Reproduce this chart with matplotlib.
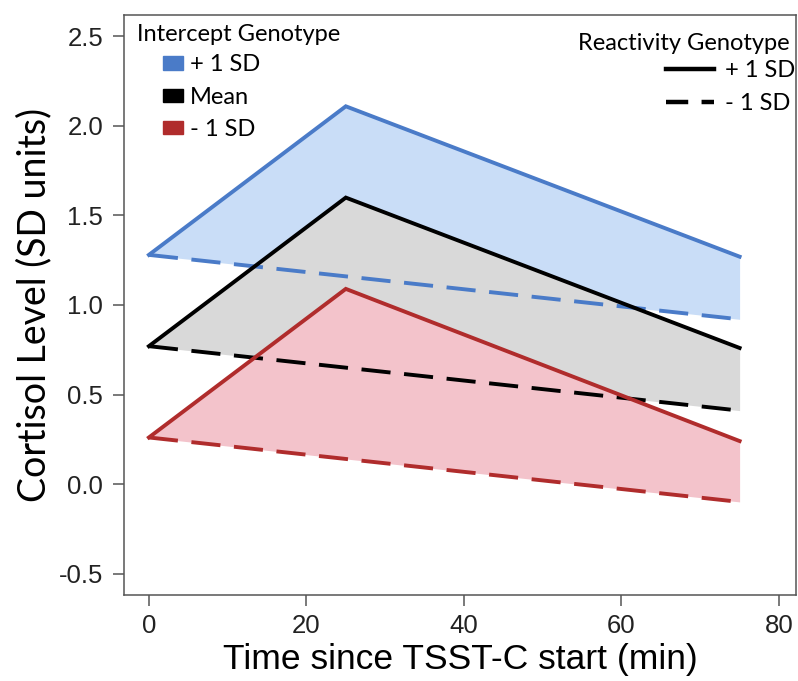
import numpy as np
import matplotlib
matplotlib.use("Agg")
import matplotlib.pyplot as plt
from matplotlib.patches import Patch
from matplotlib.lines import Line2D

# time points (min)
time = [0, 25, 75]

# cortisol (SD units): solid = reactivity +1 SD, dashed = reactivity -1 SD
hi_plus = [1.28, 2.11, 1.27]
lo_plus = [1.28, 1.16, 0.92]
hi_mean = [0.77, 1.60, 0.76]
lo_mean = [0.77, 0.65, 0.41]
hi_minus = [0.26, 1.09, 0.24]
lo_minus = [0.26, 0.14, -0.10]

groups = [
    ("+ 1 SD", hi_plus, lo_plus, "#4a7bc8", "#c9ddf7"),
    ("Mean", hi_mean, lo_mean, "black", "#d9d9d9"),
    ("- 1 SD", hi_minus, lo_minus, "#b02c2c", "#f3c3cb"),
]

fig = plt.figure(figsize=(7.98, 6.81), dpi=100)
ax = fig.add_axes([124/798, 1-595/681, 672/798, 580/681])

for name, hi, lo, lc, fc in groups:
    ax.fill_between(time, lo, hi, color=fc, lw=0, zorder=1)
for name, hi, lo, lc, fc in groups:
    ax.plot(time, hi, color=lc, lw=2.8, zorder=3, solid_joinstyle="miter")
    ax.plot(time, lo, color=lc, lw=2.8, ls=(0, (7.5, 3.5)), zorder=3)

ax.set_xlim(-3.16, 82.16)
ax.set_ylim(-0.62, 2.62)
ax.set_xticks([0, 20, 40, 60, 80])
ax.set_yticks([-0.5, 0.0, 0.5, 1.0, 1.5, 2.0, 2.5])
ax.set_yticklabels(["-0.5", "0.0", "0.5", "1.0", "1.5", "2.0", "2.5"])
ax.tick_params(length=8, width=1.1, color="#555555", labelcolor="#222222",
               labelsize=18.5)
ax.tick_params(axis="y", pad=7)
ax.tick_params(axis="x", pad=6)
for lab in ax.get_xticklabels() + ax.get_yticklabels():
    lab.set_family("Liberation Sans")
for s in ax.spines.values():
    s.set_color("#555555")
    s.set_linewidth(1.1)

ax.set_xlabel("Time since TSST-C start (min)", fontsize=25.5,
              family="Liberation Sans", labelpad=3)
ax.set_ylabel("Cortisol Level (SD units)", fontsize=27, family="Lato",
              labelpad=5)

# left legend: intercept genotype
ax.text(0.019, 0.984, "Intercept Genotype", transform=ax.transAxes,
        fontsize=17, family="Lato", va="top", ha="left")
h1 = [Patch(color=g[3]) for g in groups]
leg1 = ax.legend(h1, [g[0] for g in groups], loc="upper left",
                 bbox_to_anchor=(0.058, 0.932), frameon=False,
                 prop={"family": "Lato", "size": 17},
                 handlelength=0.85, handleheight=0.5, handletextpad=0.3,
                 labelspacing=0.48, borderpad=0, borderaxespad=0)
ax.add_artist(leg1)

# right legend: reactivity genotype
ax.text(0.991, 0.969, "Reactivity Genotype", transform=ax.transAxes,
        fontsize=17, family="Lato", va="top", ha="right")
h2 = [Line2D([], [], color="black", lw=3.2),
      Line2D([], [], color="black", lw=3.2, ls=(0, (5, 3)))]
ax.legend(h2, ["+ 1 SD", "- 1 SD"], loc="upper right",
          bbox_to_anchor=(0.9995, 0.922), frameon=False,
          prop={"family": "Lato", "size": 17},
          handlelength=2.0, handletextpad=0.5, labelspacing=0.5,
          borderpad=0, borderaxespad=0)

fig.savefig("out.png", dpi=100)
